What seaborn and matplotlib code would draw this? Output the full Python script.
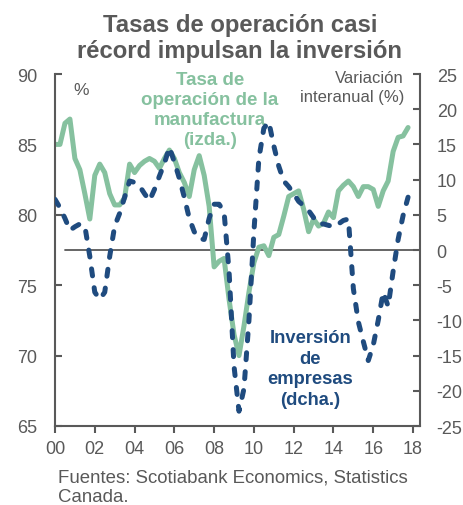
import matplotlib
matplotlib.use('Agg')
import matplotlib.pyplot as plt
import seaborn as sns
import numpy as np
import pandas as pd

GREEN = '#86c19f'
BLUE = '#1f4b7f'
GREY = '#595959'

# quarterly, 2000Q1 .. 2017Q4
quarters = 2000 + np.arange(72) / 4

# tasa de operación de la manufactura, % (izda.)
capacity_rate = [
    85.0, 85.0, 86.5, 86.8, 84.0, 83.2, 81.5, 79.7,
    82.8, 83.6, 83.0, 81.5, 80.7, 80.7, 81.2, 83.6,
    83.0, 83.5, 83.8, 84.0, 83.8, 83.3, 84.0, 84.6,
    84.0, 83.0, 82.3, 81.3, 83.2, 84.2, 82.8, 80.6,
    76.3, 76.7, 76.9, 74.0, 71.5, 70.0, 72.1, 74.5,
    76.6, 77.7, 77.8, 77.1, 78.4, 78.6, 79.9, 81.3,
    81.5, 81.7, 80.4, 78.8, 79.7, 79.2, 79.4, 80.2,
    79.8, 81.7, 82.1, 82.4, 82.0, 81.3, 82.0, 82.0,
    81.8, 80.6, 81.7, 82.4, 84.5, 85.5, 85.6, 86.2,
]

# inversión de empresas, variación interanual % (dcha.)
investment_yoy = [
    7.2, 6.0, 4.5, 2.8, 3.3, 3.7, 3.4, -0.9,
    -6.0, -7.0, -6.0, -0.9, 3.4, 5.2, 7.5, 9.8,
    9.6, 9.1, 8.0, 7.0, 8.6, 10.5, 12.3, 14.6,
    12.5, 10.2, 7.5, 4.5, 2.6, 1.6, 1.5, 4.5,
    6.5, 6.5, 5.4, -3.0, -16.5, -22.9, -19.7, -10.0,
    2.6, 13.0, 17.3, 18.2, 14.8, 11.9, 9.8, 9.0,
    8.0, 6.9, 6.3, 5.6, 4.6, 3.7, 3.7, 3.5,
    3.3, 3.7, 4.2, 4.4, -5.5, -10.2, -13.0, -15.7,
    -13.5, -10.0, -6.0, -8.0, -3.0, 1.5, 4.9, 7.5,
]

left_ticks = [65, 70, 75, 80, 85, 90]
right_ticks = [-25, -20, -15, -10, -5, 0, 5, 10, 15, 20, 25]
year_ticks = list(range(2000, 2019, 2))
year_labels = [f'{y % 100:02d}' for y in year_ticks]

df = pd.DataFrame({
    'quarter': quarters,
    'capacity': capacity_rate,
    'investment': investment_yoy,
})

sns.set_theme(style='white')
plt.rcParams['font.family'] = ['Liberation Sans', 'DejaVu Sans']
plt.rcParams['axes.unicode_minus'] = False

fig = plt.figure(figsize=(4.64, 5.06), dpi=100)
ax = fig.add_axes([55 / 464, 1 - 427 / 506, 365 / 464, 352 / 506])
ax2 = ax.twinx()

left_lim = (left_ticks[0], left_ticks[-1])
right_lim = (right_ticks[0], right_ticks[-1])

# zero line of the right axis, drawn on the left axis so both series sit above it
zero_left = left_lim[0] + (0 - right_lim[0]) / (right_lim[1] - right_lim[0]) * (left_lim[1] - left_lim[0])
ax.axhline(zero_left, xmin=0.028, color=GREY, lw=1.3, zorder=1)

sns.lineplot(data=df, x='quarter', y='capacity', ax=ax, color=GREEN,
             lw=3.6, zorder=2, legend=False)
sns.lineplot(data=df, x='quarter', y='investment', ax=ax2, color=BLUE,
             lw=3.6, linestyle=(0, (1.4, 2.4)), dash_capstyle='round',
             legend=False)

ax.set_xlim(2000, 2018.35)
ax.set_ylim(*left_lim)
ax2.set_ylim(*right_lim)
ax.set_xticks(year_ticks)
ax.set_xticklabels(year_labels)
ax.set_yticks(left_ticks)
ax2.set_yticks(right_ticks)
ax.set_xlabel('')
ax.set_ylabel('')
ax2.set_ylabel('')

for a in (ax, ax2):
    for s in a.spines.values():
        s.set_visible(False)
        s.set_color(GREY)
        s.set_linewidth(1.5)
ax.spines['left'].set_visible(True)
ax.spines['bottom'].set_visible(True)
ax2.spines['right'].set_visible(True)

ax.tick_params(axis='y', direction='in', length=5, width=1.5, color=GREY,
               labelcolor=GREY, labelsize=13, pad=13, left=True)
ax.tick_params(axis='x', direction='out', length=5, width=1.5, color=GREY,
               labelcolor=GREY, labelsize=13, pad=5, bottom=True)
ax2.tick_params(axis='y', direction='in', length=5, width=1.5, color=GREY,
                labelcolor=GREY, labelsize=13, pad=12, right=True)

# multi-line labels: y is the baseline of the last line
ax.text(0.049, 0.943, '%', transform=ax.transAxes, color=GREY, fontsize=12.5,
        ha='left', va='baseline')
ax.text(0.4247, 0.801, 'Tasa de\noperación de la\nmanufactura\n(izda.)',
        transform=ax.transAxes, color=GREEN, fontsize=13.5, fontweight='bold',
        ha='center', va='baseline', linespacing=1.24)
ax.text(0.956, 0.923, 'Variación\ninteranual (%)', transform=ax.transAxes,
        color=GREY, fontsize=12, ha='right', va='baseline', linespacing=1.33)
ax.text(0.699, 0.0625, 'Inversión\nde\nempresas\n(dcha.)', transform=ax.transAxes,
        color=BLUE, fontsize=13.2, fontweight='bold', ha='center',
        va='baseline', linespacing=1.27)

fig.text(0.517, 1 - 32 / 506, 'Tasas de operación casi', ha='center',
         va='baseline', fontsize=17.2, fontweight='bold', color=GREY)
fig.text(0.517, 1 - 58 / 506, 'récord impulsan la inversión', ha='center',
         va='baseline', fontsize=17.2, fontweight='bold', color=GREY)

fig.text(58 / 464, 1 - 483 / 506, 'Fuentes: Scotiabank Economics, Statistics',
         ha='left', va='baseline', fontsize=13.4, color=GREY)
fig.text(58 / 464, 1 - 502 / 506, 'Canada.', ha='left', va='baseline',
         fontsize=13.4, color=GREY)

fig.savefig('out.png', dpi=100, facecolor='white')
